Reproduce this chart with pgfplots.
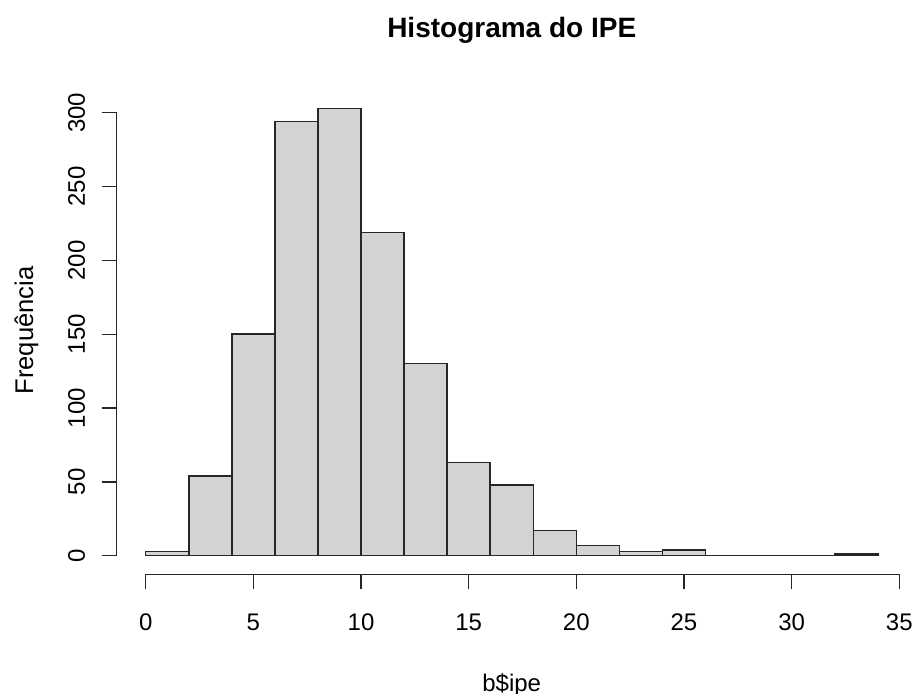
\documentclass[border=0pt]{standalone}
\usepackage{fontspec}
\setmainfont{Liberation Sans}
\usepackage{pgfplots}
\pgfplotsset{compat=1.18}
\definecolor{barfill}{HTML}{D3D3D3}
\begin{document}
\begin{tikzpicture}
\useasboundingbox (-72.85pt,-68.65pt) rectangle (384.15pt,277.85pt);
\begin{axis}[
  at={(0,0)}, anchor=origin,
  scale only axis, width=376.8pt, height=221.5pt,
  xmin=0, xmax=35, ymin=0, ymax=300,
  clip=false,
  axis x line=bottom, axis y line=left,
  axis x line shift=9.3pt, axis y line shift=14.5pt,
  axis line style={-, line width=0.7pt, black!85},
  every outer x axis line/.append style={-},
  every outer y axis line/.append style={-},
  xtick={0,5,...,35}, ytick={0,50,...,300},
  minor tick num=0,
  tick align=outside, major tick length=7.5pt,
  tick style={line width=0.7pt, black!85},
  /pgf/number format/assume math mode=true,
  ticklabel style={font=\fontsize{12}{14}\selectfont, inner sep=0pt},
  xticklabel style={anchor=base},
  yticklabel style={rotate=90, anchor=base},
  xticklabel shift=20.35pt,
  yticklabel shift=8.35pt,
]
\addplot[ybar interval, fill=barfill, draw=black!85, line width=0.75pt] coordinates {
  (0,3) (2,54) (4,150) (6,294) (8,303) (10,219) (12,130) (14,63) (16,48)
  (18,17) (20,7) (22,3) (24,4) (26,0) (28,0) (30,0) (32,1) (34,1)
};
\node[anchor=base, font=\bfseries\fontsize{14}{17}\selectfont] at (axis cs:17,350.8) {Histograma do IPE};
\node[anchor=base, font=\fontsize{12}{14}\selectfont] at (axis cs:17,-92.0) {b\$ipe};
\node[rotate=90, anchor=base, font=\fontsize{12.8}{15}\selectfont] at (axis cs:-5.234,152.5) {Frequência};
\end{axis}
\end{tikzpicture}
\end{document}
